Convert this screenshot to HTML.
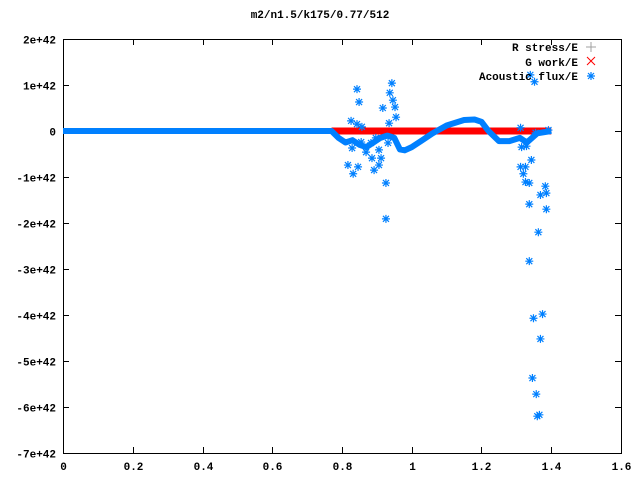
<!DOCTYPE html>
<html><head><meta charset="utf-8"><style>
body{margin:0;background:#fff}
svg text{font-family:"Liberation Mono",monospace;font-size:11px;font-weight:bold;fill:#000}
</style></head><body>
<svg id="c" width="640" height="480" xmlns="http://www.w3.org/2000/svg">
<text x="320" y="18" text-anchor="middle">m2/n1.5/k175/0.77/512</text>
<g id="axes"></g>
<g id="series"></g>
<g id="legend">
<text x="578" y="51" text-anchor="end">R stress/E</text>
<path d="M586 47h10M591 42v10" stroke="#a0a0a0" stroke-width="1"/>
<text x="578" y="66" text-anchor="end">G work/E</text>
<path d="M587 57l8 8M595 57l-8 8" stroke="#ff0000" stroke-width="1"/>
<text x="578" y="80" text-anchor="end">Acoustic flux/E</text>
</g>
</svg>
<script>
const xTicks=[0,0.2,0.4,0.6,0.8,1,1.2,1.4,1.6];
const xTickLabels=["0","0.2","0.4","0.6","0.8","1","1.2","1.4","1.6"];
const yTicks=[2,1,0,-1,-2,-3,-4,-5,-6,-7];
const yTickLabels=["2e+42","1e+42","0","-1e+42","-2e+42","-3e+42","-4e+42","-5e+42","-6e+42","-7e+42"];
// smooth acoustic-flux band (units of 1e42)
const curveX=[0,0.77,0.79,0.81,0.83,0.85,0.87,0.89,0.91,0.93,0.95,0.966,0.98,1.0,1.03,1.06,1.1,1.15,1.18,1.2,1.22,1.25,1.28,1.31,1.33,1.36,1.4];
const curveV=[0,0,-0.15,-0.25,-0.2,-0.3,-0.35,-0.25,-0.15,-0.1,-0.15,-0.4,-0.42,-0.35,-0.2,-0.05,0.12,0.24,0.25,0.2,0,-0.22,-0.22,-0.15,-0.25,-0.05,0];
// scattered acoustic-flux points
const starX=[0.843,0.849,0.943,0.937,0.946,0.952,0.917,0.955,0.935,0.826,0.843,0.857,0.829,0.855,0.883,0.897,0.869,0.906,0.886,0.912,0.817,0.832,0.846,0.892,0.906,0.926,0.926,0.932,1.312,1.315,1.329,1.312,1.326,1.343,1.320,1.326,1.337,1.383,1.369,1.386,1.337,1.386,1.363,1.337,1.340,1.352,1.355,1.392,1.349,1.375,1.369,1.346,1.357,1.366,1.360];
const starV=[0.91,0.63,1.04,0.83,0.67,0.52,0.50,0.30,0.17,0.22,0.15,0.09,-0.37,-0.24,-0.26,-0.15,-0.46,-0.41,-0.59,-0.59,-0.74,-0.93,-0.78,-0.85,-0.74,-1.13,-1.91,-0.26,0.07,-0.35,-0.33,-0.78,-0.78,-0.63,-0.93,-1.11,-1.13,-1.20,-1.39,-1.35,-1.59,-1.70,-2.20,-2.83,1.22,1.07,-0.04,0.02,-4.07,-3.98,-4.52,-5.37,-5.72,-6.17,-6.20];
// G work: constant near zero over range
const gworkX=[0.77,1.4];
const gworkV=[0,0];
const L=63,R=621,T=39,B=453;
const sx=x=>L+(x-0)/(1.6-0)*(R-L);
const sy=v=>T+(2-v)/(2-(-7))*(B-T);
const NS="http://www.w3.org/2000/svg";
const ax=document.getElementById('axes'),se=document.getElementById('series');
function mk(tag,attrs,parent){const e=document.createElementNS(NS,tag);for(const k in attrs)e.setAttribute(k,attrs[k]);parent.appendChild(e);return e;}
const frame=mk('rect',{x:L+0.5,y:T+0.5,width:R-L,height:B-T,fill:'none',stroke:'#000'},ax);


xTicks.forEach((t,i)=>{const x=Math.round(sx(t))+0.5;
const tk=mk('path',{d:`M${x} ${B}v-6M${x} ${T}v6`,stroke:'#000'},ax);


const lb=mk('text',{x:x,y:B+17,'text-anchor':'middle'},ax);lb.textContent=xTickLabels[i];

});
yTicks.forEach((t,i)=>{const y=Math.round(sy(t))+0.5;
const tk=mk('path',{d:`M${L} ${y}h6M${R} ${y}h-6`,stroke:'#000'},ax);


const lb=mk('text',{x:L-7,y:y+4,'text-anchor':'end'},ax);lb.textContent=yTickLabels[i];

});
const g=mk('path',{d:gworkX.map((x,i)=>(i?'L':'M')+sx(x)+' '+sy(gworkV[i])).join(''),stroke:'#ff0000','stroke-width':7,fill:'none'},se);


const c=mk('path',{d:curveX.map((x,i)=>(i?'L':'M')+sx(x)+' '+sy(curveV[i])).join(''),stroke:'#0080ff','stroke-width':6,fill:'none','stroke-linejoin':'round'},se);


function star(x,y,p){const e=mk('path',{d:`M${x-4} ${y}h8M${x} ${y-4}v8M${x-3} ${y-3}l6 6M${x+3} ${y-3}l-6 6`,stroke:'#0080ff','stroke-width':1.2},p);return e;}
starX.forEach((x,i)=>{const s=star(sx(x),sy(starV[i]),se);

});
const lm=star(591,76,document.getElementById('legend'));


</script>
</body></html>
